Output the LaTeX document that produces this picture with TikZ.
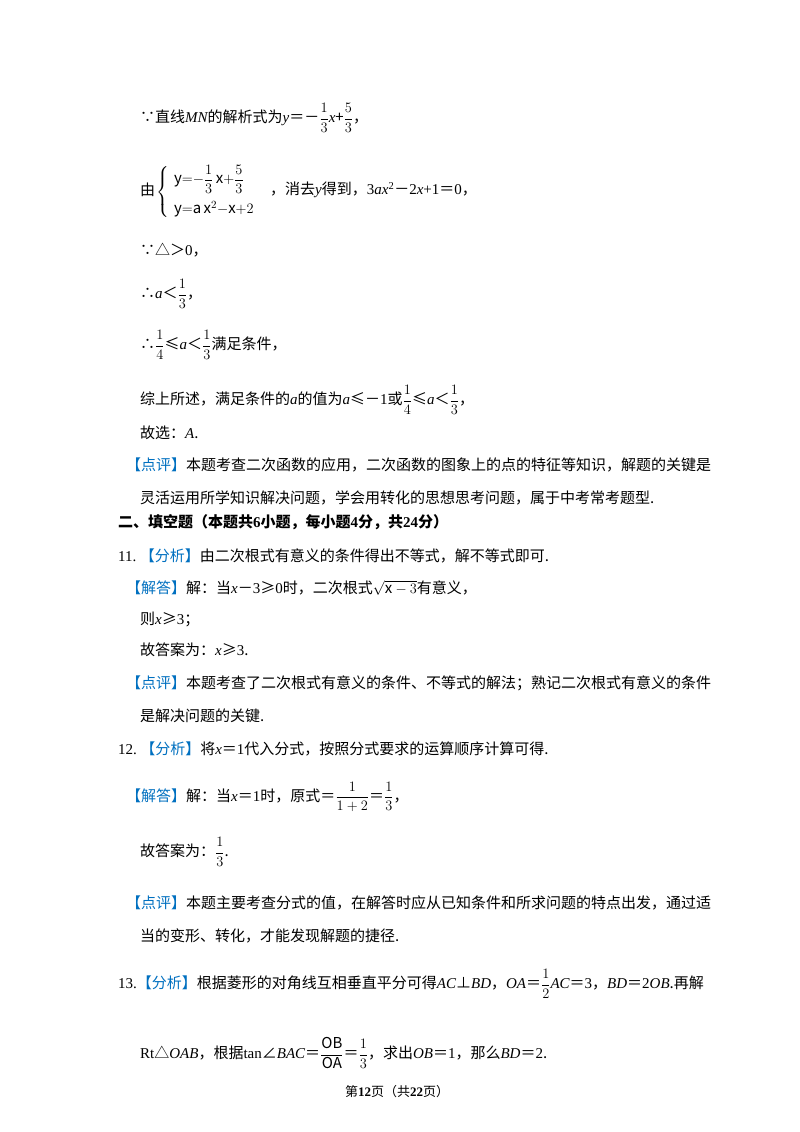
\documentclass[tikz,border=0pt]{standalone}
\usepackage{amsmath}
\usepackage{fontspec}
\setmainfont{Noto Sans CJK SC}
\newfontfamily\tms{Liberation Serif}
\newcommand\vv[1]{{\tms\itshape #1}}
\newcommand\nn[1]{{\tms #1}}
\definecolor{bl}{RGB}{0,112,192}
\newcommand\bk[1]{\textcolor{bl}{【#1】}}
\begin{document}
\begin{tikzpicture}[x=1pt,y=-1pt,
  t/.style={anchor=west,inner sep=0pt,font=\fontsize{15}{18}\selectfont}]
\fill[white] (0,0) rectangle (800,1132);
\useasboundingbox (0,0) rectangle (800,1132);
\node[t] (l1) at (140,118) {∵直线\vv{MN}的解析式为\vv{y}＝－$\dfrac{1}{3}$\vv{x}+$\dfrac{5}{3}$，};
\node[t] (l2a) at (140,190) {由};
\node[t] (sys) at (156,192) {$\left\{\begin{array}{l}\mathrm{y}{=}{-}\dfrac{1}{3}\,\mathrm{x}{+}\dfrac{5}{3}\\[12pt] \mathrm{y}{=}\mathrm{a}\,\mathrm{x}^{2}{-}\mathrm{x}{+}2\end{array}\right.$};
\node[t] (l2b) at (270,190) {，消去\vv{y}得到，\nn{3}\vv{ax}\nn{\textsuperscript{2}}－\nn{2}\vv{x}\nn{+1}＝\nn{0}，};
\node[t] (l3) at (140,250) {∵△＞\nn{0}，};
\node[t] (l4) at (140,294) {∴\vv{a}＜$\dfrac{1}{3}$，};
\node[t] (l5) at (140,345) {∴$\dfrac{1}{4}$≤\vv{a}＜$\dfrac{1}{3}$满足条件，};
\node[t] (l6) at (140,400) {综上所述，满足条件的\vv{a}的值为\vv{a}≤－\nn{1}或$\dfrac{1}{4}$≤\vv{a}＜$\dfrac{1}{3}$，};
\node[t] (l7) at (140,433) {故选：\vv{A}.};
\node[t] (l8) at (126,465) {\bk{点评}本题考查二次函数的应用，二次函数的图象上的点的特征等知识，解题的关键是};
\node[t] (l9) at (140,498) {灵活运用所学知识解决问题，学会用转化的思想思考问题，属于中考常考题型.};
\node[t] (l10) at (118,522) {\textbf{二、填空题（本题共\nn{\textbf{6}}小题，每小题\nn{\textbf{4}}分，共\nn{\textbf{24}}分）}};
\node[t] (l11) at (118,556) {\nn{11.}\ \bk{分析}由二次根式有意义的条件得出不等式，解不等式即可.};
\node[t] (l12) at (126,588) {\bk{解答}解：当\vv{x}－\nn{3}≥\nn{0}时，二次根式$\sqrt{\mathrm{x}-3}$有意义，};
\node[t] (l13) at (140,619) {则\vv{x}≥\nn{3}；};
\node[t] (l14) at (140,650) {故答案为：\vv{x}≥\nn{3}.};
\node[t] (l15) at (126,683) {\bk{点评}本题考查了二次根式有意义的条件、不等式的解法；熟记二次根式有意义的条件};
\node[t] (l16) at (140,716) {是解决问题的关键.};
\node[t] (l17) at (118,749) {\nn{12.}\ \bk{分析}将\vv{x}＝\nn{1}代入分式，按照分式要求的运算顺序计算可得.};
\node[t] (l18) at (126,797) {\bk{解答}解：当\vv{x}＝\nn{1}时，原式＝$\dfrac{1}{1+2}$＝$\dfrac{1}{3}$，};
\node[t] (l19) at (140,852) {故答案为：$\dfrac{1}{3}$.};
\node[t] (l20) at (126,903) {\bk{点评}本题主要考查分式的值，在解答时应从已知条件和所求问题的特点出发，通过适};
\node[t] (l21) at (140,936) {当的变形、转化，才能发现解题的捷径.};
\node[t] (l22) at (118,984) {\nn{13.}\bk{分析}根据菱形的对角线互相垂直平分可得\vv{AC}⊥\vv{BD}，\vv{OA}＝$\dfrac{1}{2}$\vv{AC}＝\nn{3}，\vv{BD}＝\nn{2}\vv{OB}.再解};
\node[t] (l23) at (140,1053) {\nn{Rt}△\vv{OAB}，根据\nn{tan}∠\vv{BAC}＝$\dfrac{\mathrm{OB}}{\mathrm{OA}}$＝$\dfrac{1}{3}$，求出\vv{OB}＝\nn{1}，那么\vv{BD}＝\nn{2}.};
\node[t,font=\fontsize{13}{15}\selectfont] (ft) at (345,1092) {第\textbf{\nn{12}}页（共\textbf{\nn{22}}页）};
\end{tikzpicture}
\end{document}
